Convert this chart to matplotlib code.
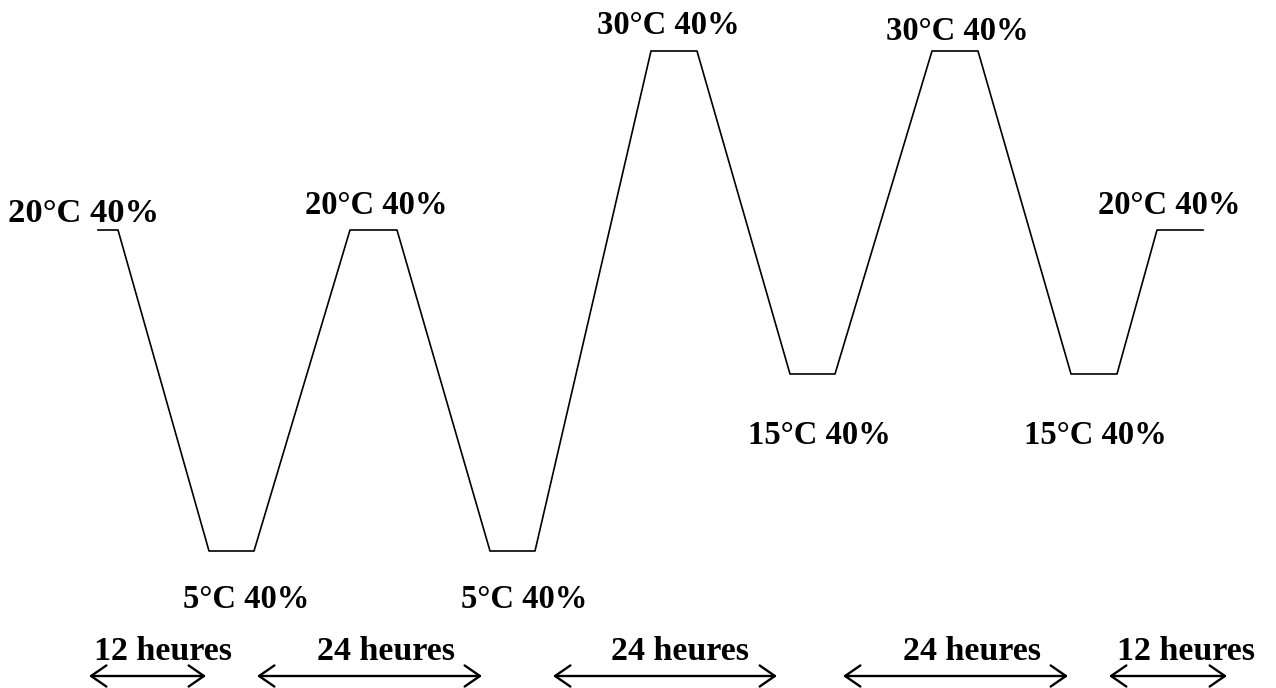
import matplotlib
matplotlib.use('Agg')
import matplotlib.pyplot as plt

profile_x = [98, 118, 209, 254, 350, 397, 490, 535, 651, 697, 790, 835, 932, 978, 1071, 1117, 1157, 1203]
profile_y = [230, 230, 551, 551, 230, 230, 551, 551, 51, 51, 374, 374, 51, 51, 374, 374, 230, 230]

# Étiquettes des paliers
step_labels = ['20°C 40%', '5°C 40%', '20°C 40%', '5°C 40%', '30°C 40%',
               '15°C 40%', '30°C 40%', '15°C 40%', '20°C 40%']
step_label_x = [84, 246, 376, 524, 668, 819, 957, 1095, 1169]
step_label_y = [213, 600, 206, 600, 25, 435, 32, 435, 206]
step_label_size = [24.8, 23.5, 23.5, 23.5, 23.5, 23.5, 23.5, 23.5, 23.5]

# Durées
durations = ['12 heures', '24 heures', '24 heures', '24 heures', '12 heures']
dur_start = [89, 257, 553, 843, 1109]
dur_end = [206, 482, 777, 1068, 1227]
dur_text_x = [163, 386, 680, 972, 1186]

fig = plt.figure(figsize=(12.76, 6.88), dpi=100)
ax = fig.add_axes([0, 0, 1, 1])
ax.set_xlim(0, 1276)
ax.set_ylim(688, 0)
ax.axis('off')

ax.plot(profile_x, profile_y, color='black', linewidth=1.2)

font = dict(family='Liberation Serif', fontweight='bold', color='black')

for lab, x, y, s in zip(step_labels, step_label_x, step_label_y, step_label_size):
    ax.text(x, y, lab, ha='center', va='center', fontsize=s, **font)

for lab, x0, x1, xt in zip(durations, dur_start, dur_end, dur_text_x):
    ax.annotate('', xy=(x1, 676), xytext=(x0, 676),
                arrowprops=dict(arrowstyle='<->,head_length=0.55,head_width=0.38',
                                lw=1.7, color='black', shrinkA=0, shrinkB=0,
                                mutation_scale=20))
    ax.text(xt, 652, lab, ha='center', va='center', fontsize=24.5, **font)

fig.savefig('out.png', dpi=100)
